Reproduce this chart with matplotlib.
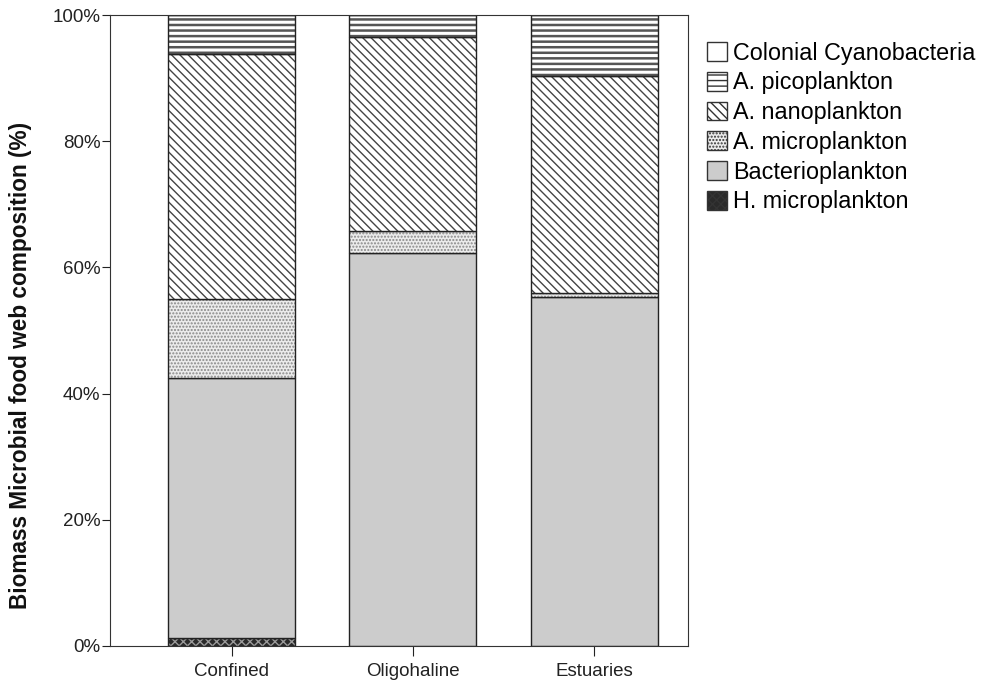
import matplotlib.pyplot as plt
import numpy as np
from matplotlib.patches import Patch
from matplotlib.ticker import PercentFormatter

plt.rcParams['font.family'] = ['Liberation Sans', 'DejaVu Sans']
plt.rcParams['hatch.linewidth'] = 1.0

sites = ['Confined', 'Oligohaline', 'Estuaries']
groups = ['Colonial Cyanobacteria', 'A. picoplankton', 'A. nanoplankton',
          'A. microplankton', 'Bacterioplankton', 'H. microplankton']

# percentage of biomass
h_micro = [1.2, 0.0, 0.0]
bacterio = [41.3, 62.3, 55.3]
a_micro = [12.5, 3.5, 0.6]
a_nano = [38.8, 30.7, 34.4]
a_pico = [6.2, 3.5, 9.7]
colonial = [0.0, 0.0, 0.0]

# bottom -> top stacking order
stack = [h_micro, bacterio, a_micro, a_nano, a_pico, colonial]
styles = [('#2a2a2a', 'xxxx', '#9a9a9a'),     # H. micro
          ('#cccccc', '', '#cccccc'),         # Bacterio
          ('#ececec', '.....', '#888888'),    # A. micro
          ('white', '\\\\\\\\', '#444444'),   # A. nano
          ('white', '---', '#555555'),        # A. pico
          ('white', '', 'white')]             # Colonial
hatch_lw = [1.0, 1.0, 1.0, 1.0, 1.8, 1.0]

fig = plt.figure(figsize=(9.91, 6.85), dpi=100)
ax = fig.add_axes([0.111, 0.057, 0.583, 0.921])

x = np.arange(len(sites))
width = 0.70
bottom = np.zeros(len(sites))
for vals, (fc, hatch, hc), hlw in zip(stack, styles, hatch_lw):
    vals = np.array(vals)
    bars = ax.bar(x, vals, width, bottom=bottom, color=fc, hatch=hatch,
                  edgecolor=hc, linewidth=0)
    for b in bars:
        if hasattr(b, 'set_hatch_linewidth'):
            b.set_hatch_linewidth(hlw)
    ax.bar(x, vals, width, bottom=bottom, fill=False,
           edgecolor='#222222', linewidth=1.0)
    bottom += vals

ax.set_xlim(-0.67, 2.515)
ax.set_ylim(0, 100)
ax.set_xticks(x)
ax.set_xticklabels(sites, fontsize=13.5)
ax.set_yticks(np.arange(0, 101, 20))
ax.yaxis.set_major_formatter(PercentFormatter(decimals=0))
ax.tick_params(axis='y', labelsize=13.5, length=6, pad=1, colors='#222222')
ax.tick_params(axis='x', length=7, pad=5, colors='#222222')
for s in ax.spines.values():
    s.set_color('#333333')

fig.text(0.021, 0.467, 'Biomass Microbial food web composition (%)',
         rotation=90, ha='center', va='center', fontsize=16.3,
         fontweight='bold', color='#111111')

handles = []
for name, idx in zip(groups, [5, 4, 3, 2, 1, 0]):
    fc, hatch, hc = styles[idx]
    handles.append(Patch(facecolor=fc, hatch=hatch, edgecolor='#333333',
                         label=name))
fig.legend(handles=handles, loc='upper left', bbox_to_anchor=(0.704, 0.953),
           frameon=False, fontsize=16.8, handlelength=0.85, handleheight=0.85,
           handletextpad=0.25, labelspacing=0.29, borderaxespad=0)

fig.savefig('out.png', dpi=100)
